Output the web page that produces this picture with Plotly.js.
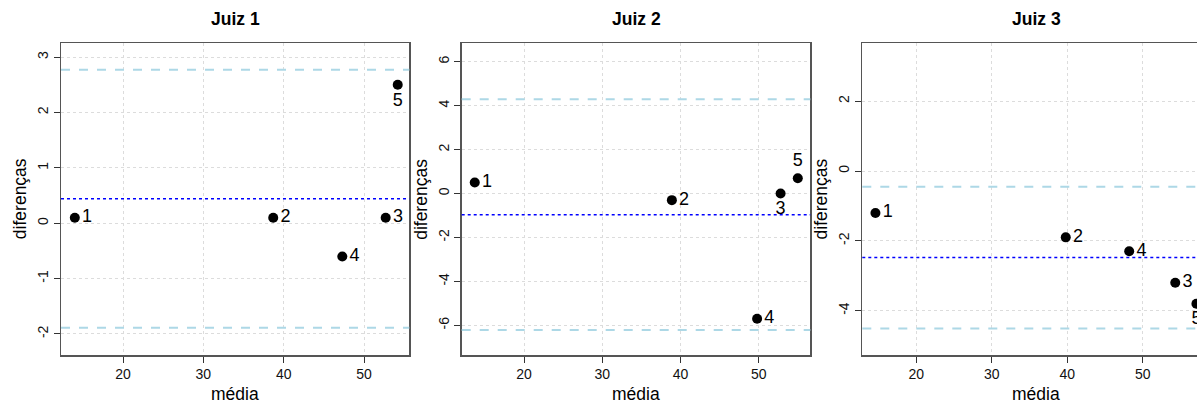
<!DOCTYPE html>
<html>
<head>
<meta charset="utf-8">
<script src="https://cdn.plot.ly/plotly-3.0.1.min.js"></script>
<style>
html,body{margin:0;padding:0;overflow:hidden;background:#fff;}
#chart{width:1240px;height:404px;}
</style>
</head>
<body>
<div id="chart"></div>
<script>
// ---- data ----
const panelTitles = ["Juiz 1", "Juiz 2", "Juiz 3"];
const pointLabels = ["1", "2", "3", "4", "5"];

const media1 = [14.0, 38.7, 52.7, 47.3, 54.2];
const dif1   = [0.1, 0.1, 0.1, -0.6, 2.5];
const media2 = [13.7, 38.9, 52.8, 49.8, 55.0];
const dif2   = [0.5, -0.3, 0.0, -5.7, 0.7];
const media3 = [14.6, 39.8, 54.3, 48.2, 57.1];
const dif3   = [-1.2, -1.9, -3.2, -2.3, -3.8];

const meanDiff  = [0.44, -0.96, -2.48];
const upperLoA  = [2.77, 4.29, -0.45];
const lowerLoA  = [-1.89, -6.21, -4.51];

const xTicks  = [20, 30, 40, 50];
const yTicks1 = [-2, -1, 0, 1, 2, 3];
const yTicks2 = [-6, -4, -2, 0, 2, 4, 6];
const yTicks3 = [-4, -2, 0, 2];

const labelPos1 = ["middle right","middle right","middle right","middle right","bottom center"];
const labelPos2 = ["middle right","middle right","bottom center","middle right","top center"];
const labelPos3 = ["middle right","middle right","middle right","middle right","bottom center"];

// ---- layout geometry ----
const W = 1240, H = 404;
const boxes = [[61, 409.3], [461.7, 810.3], [862.3, 1210]];
const boxTop = 43.3, boxBottom = 355;
const xRanges = [[12.28, 55.64], [12.03, 56.6], [12.86, 58.9]];
const yRanges = [[-2.38, 3.25], [-7.35, 6.84], [-5.27, 3.66]];

const FONT = "Liberation Sans, Arial, Helvetica, sans-serif";
const medias = [media1, media2, media3];
const difs = [dif1, dif2, dif3];
const yTicks = [yTicks1, yTicks2, yTicks3];
const labelPos = [labelPos1, labelPos2, labelPos3];

const traces = [];
const layout = {
  width: W, height: H,
  margin: {l: 0, r: 0, t: 0, b: 0},
  paper_bgcolor: "#fff", plot_bgcolor: "#fff",
  showlegend: false,
  font: {family: FONT, color: "#000"},
  shapes: [], annotations: []
};

for (let i = 0; i < 3; i++) {
  const xa = i === 0 ? "x" : "x" + (i + 1);
  const ya = i === 0 ? "y" : "y" + (i + 1);
  const xk = i === 0 ? "xaxis" : "xaxis" + (i + 1);
  const yk = i === 0 ? "yaxis" : "yaxis" + (i + 1);
  const [l, r] = boxes[i];
  const dom = [l / W, r / W];
  const ydom = [(H - boxBottom) / H, (H - boxTop) / H];

  layout[xk] = {
    domain: dom, range: xRanges[i], anchor: ya,
    tickmode: "array", tickvals: xTicks, ticktext: xTicks.map(String),
    ticks: "outside", ticklen: 6, tickcolor: "#333", tickwidth: 1,
    showline: true, mirror: true, linecolor: "#555", linewidth: 1.5,
    showgrid: true, gridcolor: "#dcdcdc", griddash: "dot", gridwidth: 1,
    zeroline: false,
    tickfont: {size: 14, family: FONT, color: "#111"}
  };
  layout[yk] = {
    domain: ydom, range: yRanges[i], anchor: xa,
    tickmode: "array", tickvals: yTicks[i], ticktext: yTicks[i].map(String),
    ticks: "outside", ticklen: 6, tickcolor: "#333", tickwidth: 1,
    tickangle: -90,
    showline: true, mirror: true, linecolor: "#555", linewidth: 1.5,
    showgrid: true, gridcolor: "#dcdcdc", griddash: "dot", gridwidth: 1,
    zeroline: false,
    tickfont: {size: 14, family: FONT, color: "#111"}
  };

  // reference lines
  const xd = xa + " domain";
  layout.shapes.push({type: "line", xref: xd, yref: ya, x0: 0, x1: 1, y0: upperLoA[i], y1: upperLoA[i],
    line: {color: "#ADD8E6", width: 2, dash: "dash"}, layer: "above"});
  layout.shapes.push({type: "line", xref: xd, yref: ya, x0: 0, x1: 1, y0: lowerLoA[i], y1: lowerLoA[i],
    line: {color: "#ADD8E6", width: 2, dash: "dash"}, layer: "above"});
  layout.shapes.push({type: "line", xref: xd, yref: ya, x0: 0, x1: 1, y0: meanDiff[i], y1: meanDiff[i],
    line: {color: "#0000FF", width: 1.5, dash: "dot"}, layer: "above"});

  traces.push({
    type: "scatter", mode: "markers+text",
    x: medias[i], y: difs[i], xaxis: xa, yaxis: ya,
    text: pointLabels, textposition: labelPos[i],
    textfont: {size: 18, family: FONT, color: "#000"},
    marker: {color: "#000", size: 10},
    cliponaxis: false, hoverinfo: "none"
  });

  const cx = (l + r) / 2 / W;
  layout.annotations.push({text: "<b>" + panelTitles[i] + "</b>", xref: "paper", yref: "paper",
    x: cx, y: 1 - 19 / H, xanchor: "center", yanchor: "middle", showarrow: false,
    font: {size: 17.5, family: FONT, color: "#000"}});
  layout.annotations.push({text: "média", xref: "paper", yref: "paper",
    x: cx, y: 1 - 394 / H, xanchor: "center", yanchor: "middle", showarrow: false,
    font: {size: 17.5, family: FONT, color: "#000"}});
  layout.annotations.push({text: "diferenças", xref: "paper", yref: "paper",
    x: (l - 41) / W, y: 1 - ((boxTop + boxBottom) / 2) / H, xanchor: "center", yanchor: "middle",
    textangle: -90, showarrow: false,
    font: {size: 17.5, family: FONT, color: "#000"}});
}

Plotly.newPlot("chart", traces, layout, {staticPlot: true, displayModeBar: false});
</script>
</body>
</html>
